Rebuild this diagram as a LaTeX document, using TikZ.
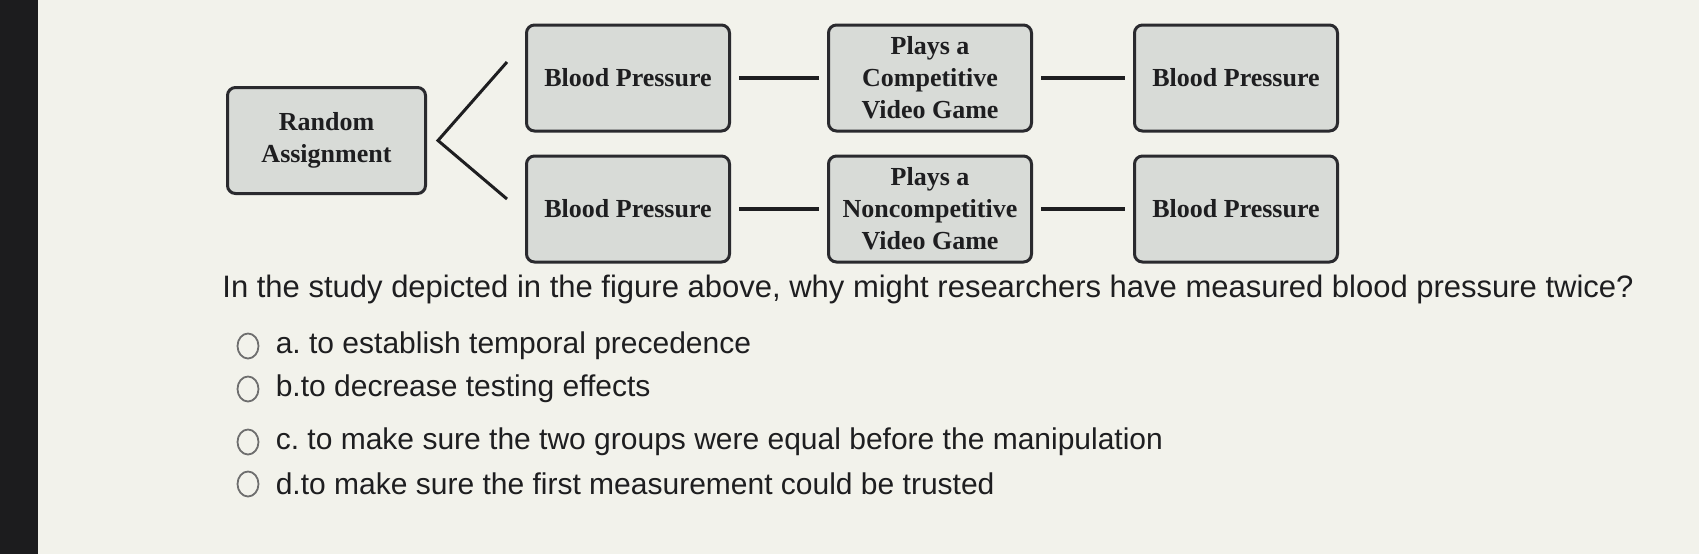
\documentclass[tikz,border=0pt]{standalone}
\usepackage{fontspec}
\setmainfont{Liberation Serif}
\newfontfamily\qfont{Liberation Sans}
\usepackage{tikz}
\usetikzlibrary{shapes,positioning,calc}
\frenchspacing
\definecolor{screenbg}{RGB}{242,242,235}
\definecolor{bezel}{RGB}{28,28,30}
\definecolor{boxfill}{RGB}{216,219,215}
\definecolor{boxline}{RGB}{42,42,46}
\definecolor{inkdark}{RGB}{30,30,32}
\definecolor{radiogray}{RGB}{110,110,110}

\begin{document}
\begin{tikzpicture}[
    x=0.5pt, y=-0.5pt,
    node distance=11pt and 48pt,
    box/.style={rectangle, draw=boxline, fill=boxfill, line width=1.5pt, minimum width=101.5pt, minimum height=53pt, rounded corners=4pt, align=center, text=inkdark, font=\bfseries\fontsize{13}{16}\selectfont},
    line/.style={draw=inkdark, line width=2pt, shorten <=4pt, shorten >=4pt},
    fork/.style={draw=inkdark, line width=1.5pt},
    question/.style={anchor=west, inner sep=0pt, text=inkdark, font=\qfont\fontsize{15.5}{18}\selectfont},
    choice/.style={inner sep=0pt, text=inkdark, font=\qfont\fontsize{15}{18}\selectfont},
    radio/.style={ellipse, draw=radiogray, line width=0.9pt, minimum width=10.5pt, minimum height=12.5pt, inner sep=0pt}
]
% Screen
\fill[screenbg] (0,0) rectangle (1699,554);
\fill[bezel] (0,0) rectangle (38,554);
\useasboundingbox (0,0) rectangle (1699,554);

% Nodes
\node[box] (bpPreA) at (628,78) {Blood Pressure};
\node[box, below=of bpPreA] (bpPreB) {Blood Pressure};
\node[box, right=of bpPreA] (gameA) {Plays a\\Competitive\\Video Game};
\node[box, right=of bpPreB] (gameB) {Plays a\\Noncompetitive\\Video Game};
\node[box, right=50pt of gameA] (bpPostA) {Blood Pressure};
\node[box, right=50pt of gameB] (bpPostB) {Blood Pressure};
\node[box, minimum width=99pt, yshift=1.5pt, left=49pt of $(bpPreA.west)!0.5!(bpPreB.west)$] (ra) {Random\\Assignment};

% Connections
\draw[fork] ($(bpPreA.west)+(-18,-16)$) -- ($(ra.east)+(11,0)$) coordinate (split) -- ($(bpPreB.west)+(-18,-10)$);
\path[line] (bpPreA) -- (gameA);
\path[line] (gameA) -- (bpPostA);
\path[line] (bpPreB) -- (gameB);
\path[line] (gameB) -- (bpPostB);

% Question
\node[question] (q) at (222,289) {In the study depicted in the figure above, why might researchers have measured blood pressure twice?};

\node[radio] (optA) at (248,346) {};
\node[choice, right=8pt of optA] (txtA) {a. to establish temporal precedence};
\node[radio] (optB) at (248,389) {};
\node[choice, right=8pt of optB] (txtB) {b.to decrease testing effects};
\node[radio] (optC) at (248,442) {};
\node[choice, right=8pt of optC] (txtC) {c. to make sure the two groups were equal before the manipulation};
\node[radio] (optD) at (248,484) {};
\node[choice, right=8pt of optD] (txtD) {d.to make sure the first measurement could be trusted};

\end{tikzpicture}
\end{document}
